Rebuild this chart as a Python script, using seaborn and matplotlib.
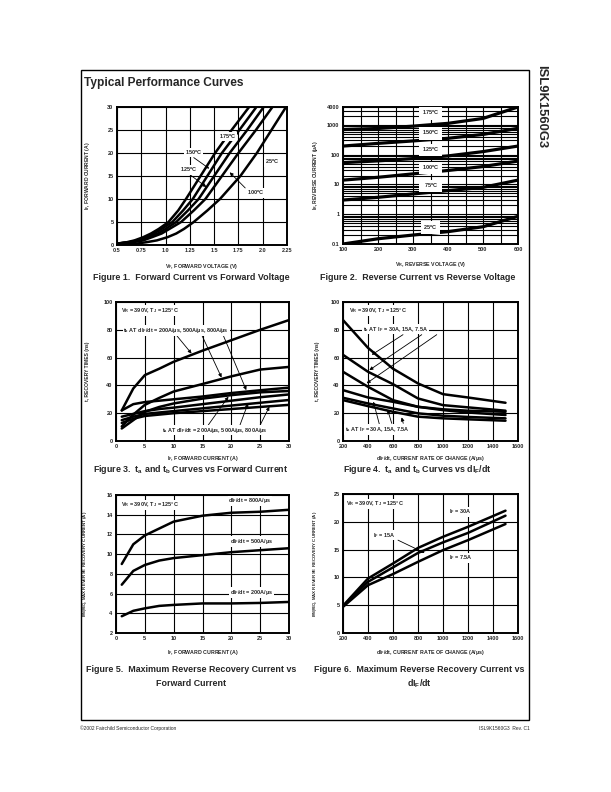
"""
ISL9K1560G3 - Typical Performance Curves page
"""

import matplotlib
matplotlib.use("Agg")
import matplotlib.pyplot as plt
import seaborn as sns
from matplotlib.patches import Rectangle

sns.set_style("white")
plt.rcParams["font.family"] = ["Liberation Sans", "DejaVu Sans"]
plt.rcParams["mathtext.default"] = "regular"

W, H = 611, 792

# ---------- Figure 1 data : IF vs VF ----------
f1_if = [0.3, 0.6, 1, 1.7, 2.5, 3.5, 5, 7.5, 10, 15, 20, 25, 30]
f1_vf_175 = [0.5, 0.60, 0.68, 0.77, 0.85, 0.93, 1.03, 1.13, 1.21, 1.36, 1.51, 1.68, 1.86]
f1_vf_150 = [0.5, 0.62, 0.71, 0.80, 0.88, 0.96, 1.07, 1.18, 1.28, 1.43, 1.58, 1.76, 1.935]
f1_vf_125 = [0.5, 0.64, 0.74, 0.83, 0.92, 1.00, 1.11, 1.23, 1.34, 1.50, 1.66, 1.84, 2.01]
f1_vf_100 = [0.5, 0.66, 0.77, 0.86, 0.96, 1.04, 1.16, 1.29, 1.41, 1.58, 1.75, 1.93, 2.10]
f1_if_25 = [0.05, 0.3, 0.6, 1, 1.7, 2.5, 3.5, 5, 7.5, 10, 15, 20, 25, 30]
f1_vf_25 = [0.55, 0.70, 0.80, 0.91, 1.02, 1.11, 1.19, 1.29, 1.43, 1.56, 1.77, 1.94, 2.09, 2.24]

# ---------- Figure 2 data : IR vs VR ----------
f2_vr = [100, 200, 300, 400, 500, 600]
f2_ir = {
    "175": [700, 760, 910, 1130, 1650, 4000],
    "150": [195, 240, 290, 355, 480, 770],
    "125": [54, 62, 74, 91, 127, 195],
    "100": [14, 17.4, 22.7, 29.5, 40, 61],
    "75": [3.0, 3.7, 4.8, 6.2, 8.0, 14],
    "25": [0.1, 0.15, 0.2, 0.26, 0.38, 0.85],
}
f2_label_y = {"175": 2450, "150": 525, "125": 145, "100": 36, "75": 8.9, "25": 0.36}

# ---------- Figure 3 data : ta / tb vs IF ----------
f3_if = [1, 3, 5, 7.5, 10, 15, 20, 25, 30]
f3_tb = [
    [22, 37.8, 47.4, 52, 57, 65, 72.5, 80, 87],     # 200 A/us
    [10.5, 19, 26, 31, 35.6, 41, 46.5, 51.4, 53.3],  # 500 A/us
    [9, 15, 21, 24.5, 27, 30.5, 33, 35, 36],         # 800 A/us
]
f3_ta = [
    [22, 26.5, 28, 29, 30, 32, 34.5, 36.5, 38.4],
    [17.5, 19.5, 21.5, 23, 24, 26.5, 29, 31.5, 33.5],
    [15, 17.5, 19.5, 20.5, 21.5, 23.5, 25.5, 27.5, 29.5],
    [13, 16, 18, 19, 20, 21.5, 23, 24.5, 26],
]

# ---------- Figure 4 data : ta / tb vs dIF/dt ----------
f4_di = [200, 400, 600, 800, 1000, 1200, 1500]
f4_tb = [
    [87, 67, 52, 41.4, 33.7, 31.3, 27.5],   # 30A
    [62, 49.8, 40.9, 30.6, 25.8, 24.2, 21.8],  # 15A
    [49.8, 39, 29.4, 24.6, 22.8, 21.8, 21],  # 7.5A
]
f4_ta = [
    [36.6, 31.3, 28.2, 24.6, 22.2, 20.5, 18.7],
    [31.1, 27, 23.4, 19.9, 18.2, 17.3, 16.3],
    [29.4, 25.1, 21, 17.5, 16.3, 15.6, 14.6],
]

# ---------- Figure 5 data : IRM vs IF ----------
f5_if = [1, 3, 5, 7.5, 10, 15, 20, 25, 30]
f5_irm_800 = [9.0, 11.0, 11.9, 12.6, 13.3, 13.9, 14.2, 14.3, 14.5]
f5_irm_500 = [6.9, 8.3, 8.9, 9.35, 9.6, 9.9, 10.2, 10.4, 10.6]
f5_irm_200 = [3.7, 4.25, 4.5, 4.75, 4.85, 5.0, 5.0, 5.05, 5.15]

# ---------- Figure 6 data : IRM vs dIF/dt ----------
f6_di = [200, 400, 600, 800, 1000, 1200, 1500]
f6_irm_30 = [4.9, 9.8, 12.5, 15.3, 17.3, 19.1, 22.0]
f6_irm_15 = [4.8, 9.2, 11.8, 14.4, 16.3, 18.0, 21.1]
f6_irm_75 = [4.7, 8.6, 10.6, 12.8, 14.9, 16.7, 19.6]

DEG = r"$^{o}$C"
LW = 1.8
ARROW = dict(arrowstyle="-|>", color="black", lw=0.6, mutation_scale=5,
             shrinkA=0, shrinkB=0)
BOX = dict(fc="white", ec="none", pad=0.6)

fig = plt.figure(figsize=(W / 100, H / 100), dpi=100)


def px_axes(x0, y0, x1, y1):
    return fig.add_axes([x0 / W, 1 - y1 / H, (x1 - x0) / W, (y1 - y0) / H])


def finish(ax, xlabel, ylabel, ylab_x, xlab_y, ysize=3.6):
    ax.grid(True, which="major", color="black", lw=0.8)
    ax.tick_params(length=0, labelsize=4, pad=2.5)
    for lab in ax.get_xticklabels() + ax.get_yticklabels():
        lab.set_fontweight("bold")
    for s in ax.spines.values():
        s.set_linewidth(1.4)
        s.set_color("black")
    ax.set_xlabel(xlabel, fontsize=3.8, fontweight="bold")
    ax.set_ylabel(ylabel, fontsize=ysize, fontweight="bold")
    ax.yaxis.set_label_coords(ylab_x, 0.5)
    ax.xaxis.set_label_coords(0.5, xlab_y)


def curve(ax, x, y, lw=LW):
    sns.lineplot(x=x, y=y, ax=ax, color="black", lw=lw, sort=False,
                 legend=False, estimator=None)


def label(ax, x, y, s, ha="left", box=True):
    ax.text(x, y, s, fontsize=4, fontweight="bold", ha=ha, va="center",
            bbox=BOX if box else None, zorder=5)


# ---- Figure 1 ----
ax1 = px_axes(117, 107, 287, 245)
for vf in [f1_vf_175, f1_vf_150, f1_vf_125, f1_vf_100]:
    curve(ax1, vf, f1_if)
curve(ax1, f1_vf_25, f1_if_25)
ax1.set_xlim(0.5, 2.25)
ax1.set_ylim(0, 30)
ax1.set_xticks([0.5, 0.75, 1.0, 1.25, 1.5, 1.75, 2.0, 2.25])
ax1.set_xticklabels(["0.5", "0.75", "1.0", "1.25", "1.5", "1.75", "2.0", "2.25"])
ax1.set_yticks(range(0, 31, 5))
finish(ax1, "V$_F$, FORWARD VOLTAGE (V)", "I$_F$, FORWARD CURRENT (A)", -0.15, -0.12)
label(ax1, 1.55, 23.6, "175" + DEG)
label(ax1, 1.2, 20.1, "150" + DEG)
ax1.annotate("", xy=(1.45, 16.6), xytext=(1.29, 19.0), arrowprops=ARROW)
label(ax1, 1.15, 16.3, "125" + DEG)
ax1.annotate("", xy=(1.42, 12.6), xytext=(1.25, 15.3), arrowprops=ARROW)
label(ax1, 1.84, 11.3, "100" + DEG)
ax1.annotate("", xy=(1.66, 15.8), xytext=(1.82, 12.4), arrowprops=ARROW)
label(ax1, 2.02, 18.1, "25" + DEG)

# ---- Figure 2 ----
ax2 = px_axes(343, 107, 518, 244)
ax2.set_yscale("log")
for key, vals in f2_ir.items():
    curve(ax2, f2_vr, vals, lw=2.3)
ax2.set_xlim(100, 600)
ax2.set_ylim(0.1, 4000)
ax2.set_xticks(range(100, 601, 100))
ax2.set_xticks(range(150, 600, 100), minor=True)
ax2.set_yticks([0.1, 1, 10, 100, 1000, 4000])
ax2.set_yticklabels(["0.1", "1", "10", "100", "1000", "4000"])
minor_y = [m * 10.0 ** e for e in range(-1, 3) for m in range(2, 10)] + [2000, 3000]
ax2.set_yticks(minor_y, minor=True)
ax2.set_yticklabels([], minor=True)
ax2.grid(True, which="minor", color="black", lw=0.8)
finish(ax2, "V$_R$, REVERSE VOLTAGE (V)", "I$_R$, REVERSE CURRENT (µA)", -0.13, -0.12)
ax2.tick_params(which="minor", length=0)
for key, yv in f2_label_y.items():
    txt = "  75" + DEG + "  " if key == "75" else key + DEG
    ax2.text(350, yv, txt, fontsize=4, fontweight="bold", ha="center", va="center",
             bbox=dict(fc="white", ec="none", pad=1.6), zorder=5)

# ---- Figure 3 ----
ax3 = px_axes(116, 302, 289, 441)
for s in f3_tb + f3_ta:
    curve(ax3, f3_if, s)
ax3.set_xlim(0, 30)
ax3.set_ylim(0, 100)
ax3.set_xticks(range(0, 31, 5))
ax3.set_yticks(range(0, 101, 20))
finish(ax3, "I$_F$, FORWARD CURRENT (A)", "t, RECOVERY TIMES (ns)", -0.15, -0.095)
label(ax3, 0.8, 94, "V$_R$ = 390V, T$_J$ = 125°C")
label(ax3, 1.3, 79.7, "t$_b$ AT dI$_F$/dt = 200A/µs, 500A/µs, 800A/µs")
for tail, head in [((10.5, 76), (13.1, 62.9)), ((14.9, 76), (18.3, 45.7)),
                   ((18.6, 76), (22.6, 36.6))]:
    ax3.annotate("", xy=head, xytext=tail, arrowprops=ARROW)
label(ax3, 8.0, 7.9, "t$_a$ AT dI$_F$/dt = 200A/µs, 500A/µs, 800A/µs")
for tail, head in [((16.0, 11.5), (19.5, 31.9)), ((21.5, 11.5), (22.9, 27.1)),
                   ((25.0, 11.5), (26.6, 24.7))]:
    ax3.annotate("", xy=head, xytext=tail, arrowprops=ARROW)

# ---- Figure 4 ----
ax4 = px_axes(343, 302, 518, 441)
for s in f4_tb + f4_ta:
    curve(ax4, f4_di, s)
ax4.set_xlim(200, 1600)
ax4.set_ylim(0, 100)
ax4.set_xticks(range(200, 1601, 200))
ax4.set_yticks(range(0, 101, 20))
finish(ax4, "dI$_F$/dt, CURRENT RATE OF CHANGE (A/µs)", "t, RECOVERY TIMES (ns)", -0.13, -0.095)
label(ax4, 250, 94, "V$_R$ = 390V, T$_J$ = 125°C")
label(ax4, 360, 80.5, "t$_b$ AT I$_F$ = 30A, 15A, 7.5A")
for tail, head in [((680, 76.5), (430, 62)), ((830, 76.5), (411, 51)),
                   ((950, 76.5), (389, 41.5))]:
    ax4.annotate("", xy=head, xytext=tail, arrowprops=ARROW)
label(ax4, 216, 8.4, "t$_a$ AT I$_F$ = 30A, 15A, 7.5A")
for tail, head in [((496, 10.3), (443, 28.3)), ((590, 12.7), (557, 22.3)),
                   ((682, 12.7), (669, 17))]:
    ax4.annotate("", xy=head, xytext=tail, arrowprops=ARROW)

# ---- Figure 5 ----
ax5 = px_axes(116, 495, 289, 633)
for s in [f5_irm_800, f5_irm_500, f5_irm_200]:
    curve(ax5, f5_if, s)
ax5.set_xlim(0, 30)
ax5.set_ylim(2, 16)
ax5.set_xticks(range(0, 31, 5))
ax5.set_yticks(range(2, 17, 2))
finish(ax5, "I$_F$, FORWARD CURRENT (A)",
       "I$_{RM(REC)}$, MAX REVERSE RECOVERY CURRENT (A)", -0.15, -0.11, ysize=3.2)
label(ax5, 0.8, 15.0, "V$_R$ = 390V, T$_J$ = 125°C")
label(ax5, 19.5, 15.4, "dI$_F$/dt = 800A/µs")
label(ax5, 19.8, 11.3, "dI$_F$/dt = 500A/µs")
label(ax5, 19.8, 6.1, "dI$_F$/dt = 200A/µs")

# ---- Figure 6 ----
ax6 = px_axes(343, 494, 518, 633)
for s in [f6_irm_30, f6_irm_15, f6_irm_75]:
    curve(ax6, f6_di, s)
ax6.set_xlim(200, 1600)
ax6.set_ylim(0, 25)
ax6.set_xticks(range(200, 1601, 200))
ax6.set_yticks(range(0, 26, 5))
finish(ax6, "dI$_F$/dt, CURRENT RATE OF CHANGE (A/µs)",
       "I$_{RM(REC)}$, MAX REVERSE RECOVERY CURRENT (A)", -0.13, -0.11, ysize=3.2)
label(ax6, 225, 23.2, "V$_R$ = 390V, T$_J$ = 125°C")
label(ax6, 1050, 21.8, "I$_F$ = 30A")
label(ax6, 440, 17.6, "I$_F$ = 15A")
ax6.annotate("", xy=(853, 14.4), xytext=(640, 16.7), arrowprops=ARROW)
label(ax6, 1050, 13.5, "I$_F$ = 7.5A")

# ---- page decorations ----
fig.patches.append(Rectangle((81 / W, 1 - 720 / H), 448 / W, 650 / H,
                             transform=fig.transFigure, fill=False,
                             ec="black", lw=1.0))
fig.text(84 / W, 1 - 83 / H, "Typical Performance Curves", fontsize=8.6,
         fontweight="bold", ha="left", va="center")
fig.text(541 / W, 1 - 65 / H, "ISL9K1560G3", fontsize=9.4, fontweight="bold",
         rotation=-90, ha="center", va="top")

captions = [
    (191, 278, "Figure 1.  Forward Current vs Forward Voltage"),
    (418, 278, "Figure 2.  Reverse Current vs Reverse Voltage"),
    (191, 470, "Figure 3.  t$_a$ and t$_b$ Curves vs Forward Current"),
    (417, 470, "Figure 4.  t$_a$ and t$_b$ Curves vs dI$_F$/dt"),
    (191, 670, "Figure 5.  Maximum Reverse Recovery Current vs"),
    (191, 683, "Forward Current"),
    (419, 670, "Figure 6.  Maximum Reverse Recovery Current vs"),
    (419, 684, "dI$_F$/dt"),
]
for x, y, s in captions:
    fig.text(x / W, 1 - y / H, s, fontsize=6.4, fontweight="bold",
             ha="center", va="center")

fig.text(80 / W, 1 - 728 / H, "©2002 Fairchild Semiconductor Corporation",
         fontsize=3.5, ha="left", va="center")
fig.text(530 / W, 1 - 728 / H, "ISL9K1560G3  Rev. C1", fontsize=3.5,
         ha="right", va="center")

fig.savefig("out.png", dpi=100)
